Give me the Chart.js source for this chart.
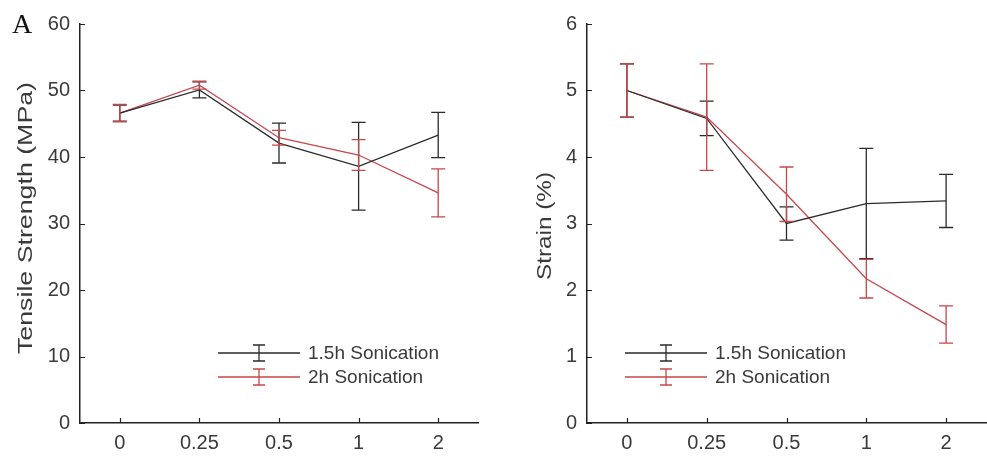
<!DOCTYPE html>
<html>
<head>
<meta charset="utf-8">
<script src="https://cdn.jsdelivr.net/npm/chart.js@4"></script>
<style>
    body { margin: 0; background: #fff; }
    #wrap { position: relative; width: 987px; height: 459px; }
    .box { position: absolute; top: 0; height: 459px; }
    #panel-label { position: absolute; left: 12px; top: 8px; font: 28px "Liberation Serif", serif; color: #111; }
</style>
</head>
<body>
<div id="wrap">
    <div class="box" style="left:0;width:493px"><canvas id="chart-tensile"></canvas></div>
    <div class="box" style="left:493px;width:494px"><canvas id="chart-strain"></canvas></div>
    <div id="panel-label">A</div>
</div>
<script>
// sonication time (h)
var doses = ['0', '0.25', '0.5', '1', '2'];

var tensile15 = [46.6, 50.1, 42.1, 38.6, 43.3];
var tensile15Err = [1.2, 1.2, 3.0, 6.6, 3.4];
var tensile2 = [46.6, 50.8, 42.9, 40.3, 34.6];
var tensile2Err = [1.3, 0.6, 1.1, 2.3, 3.6];

var strain15 = [5.0, 4.58, 3.0, 3.3, 3.34];
var strain15Err = [0.4, 0.26, 0.25, 0.83, 0.4];
var strain2 = [5.0, 4.6, 3.44, 2.17, 1.48];
var strain2Err = [0.4, 0.8, 0.41, 0.29, 0.28];

var seriesNames = ['1.5h Sonication', '2h Sonication'];
var seriesColors = ['#2b2b2b', '#c9464b'];

var textColor = '#3a3a3a';
var fontFamily = '"Liberation Sans", Arial, sans-serif';

// error bars, inward ticks, legend and the (stretched) y title
var extras = {
    id: 'extras',
    afterDatasetsDraw: function(chart, args, opts) {
        var ctx = chart.ctx;
        var y = chart.scales.y;
        var x = chart.scales.x;
        ctx.save();
        chart.data.datasets.forEach(function(ds, i) {
            var meta = chart.getDatasetMeta(i);
            ctx.strokeStyle = ds.borderColor;
            ctx.lineWidth = 1.3;
            meta.data.forEach(function(pt, j) {
                var top = y.getPixelForValue(ds.data[j] + ds.errors[j]);
                var bot = y.getPixelForValue(ds.data[j] - ds.errors[j]);
                ctx.beginPath();
                ctx.moveTo(pt.x, top); ctx.lineTo(pt.x, bot);
                ctx.moveTo(pt.x - 7, top); ctx.lineTo(pt.x + 7, top);
                ctx.moveTo(pt.x - 7, bot); ctx.lineTo(pt.x + 7, bot);
                ctx.stroke();
            });
        });

        // inward tick marks
        ctx.strokeStyle = '#222';
        ctx.lineWidth = 1.2;
        ctx.beginPath();
        y.ticks.forEach(function(t) {
            var py = Math.round(y.getPixelForValue(t.value)) + 0.5;
            ctx.moveTo(y.right, py); ctx.lineTo(y.right + 5, py);
        });
        x.ticks.forEach(function(t, k) {
            var px = Math.round(x.getPixelForTick(k)) + 0.5;
            ctx.moveTo(px, x.top); ctx.lineTo(px, x.top - 5);
        });
        ctx.stroke();

        // legend
        ctx.font = '19px ' + fontFamily;
        ctx.textBaseline = 'middle';
        chart.data.datasets.forEach(function(ds, i) {
            var ly = opts.top + i * 24;
            var lx = opts.left;
            ctx.strokeStyle = ds.borderColor;
            ctx.lineWidth = 1.3;
            ctx.beginPath();
            ctx.moveTo(lx, ly); ctx.lineTo(lx + 82, ly);
            var cx = lx + 41;
            ctx.moveTo(cx, ly - 8); ctx.lineTo(cx, ly + 8);
            ctx.moveTo(cx - 6, ly - 8); ctx.lineTo(cx + 6, ly - 8);
            ctx.moveTo(cx - 6, ly + 8); ctx.lineTo(cx + 6, ly + 8);
            ctx.stroke();
            ctx.fillStyle = textColor;
            ctx.fillText(ds.label, lx + 90, ly + 1);
        });

        // y axis title, stretched along its length like the original
        var t = opts.title;
        ctx.font = '20px ' + fontFamily;
        var w = ctx.measureText(t.text).width;
        ctx.translate(t.cx, t.cy);
        ctx.rotate(-Math.PI / 2);
        ctx.scale(t.length / w, 1);
        ctx.textAlign = 'center';
        ctx.fillStyle = textColor;
        ctx.fillText(t.text, 0, 0);
        ctx.restore();
    }
};

function makeChart(id, s1, e1, s2, e2, yMax, axisWidth, padRight, extraOpts) {
    return new Chart(document.getElementById(id), {
        type: 'line',
        data: {
            labels: doses,
            datasets: [
                { label: seriesNames[0], data: s1, errors: e1, borderColor: seriesColors[0], borderWidth: 1.3, pointRadius: 0, tension: 0, fill: false },
                { label: seriesNames[1], data: s2, errors: e2, borderColor: seriesColors[1], borderWidth: 1.3, pointRadius: 0, tension: 0, fill: false }
            ]
        },
        options: {
            responsive: true,
            maintainAspectRatio: false,
            animation: false,
            layout: { padding: { top: 24, right: padRight, bottom: 0, left: 0 } },
            plugins: {
                legend: { display: false },
                tooltip: { enabled: false },
                extras: extraOpts
            },
            scales: {
                x: {
                    offset: true,
                    grid: { display: false, drawTicks: false },
                    border: { color: '#222', width: 1.5 },
                    ticks: { color: textColor, padding: 8, font: { size: 20, family: fontFamily } },
                    afterFit: function(scale) { scale.height = 36; }
                },
                y: {
                    min: 0,
                    max: yMax,
                    grid: { display: false, drawTicks: false },
                    border: { color: '#222', width: 1.5 },
                    ticks: { color: textColor, padding: 10, stepSize: yMax / 6, font: { size: 20, family: fontFamily } },
                    afterFit: function(scale) { scale.width = axisWidth; }
                }
            }
        },
        plugins: [extras]
    });
}

makeChart('chart-tensile', tensile15, tensile15Err, tensile2, tensile2Err, 60, 80, 15,
    { left: 218, top: 353, title: { text: 'Tensile Strength (MPa)', cx: 26, cy: 218, length: 272 } });
makeChart('chart-strain', strain15, strain15Err, strain2, strain2Err, 6, 94, 1,
    { left: 132, top: 353, title: { text: 'Strain (%)', cx: 52, cy: 226, length: 108 } });
</script>
</body>
</html>
